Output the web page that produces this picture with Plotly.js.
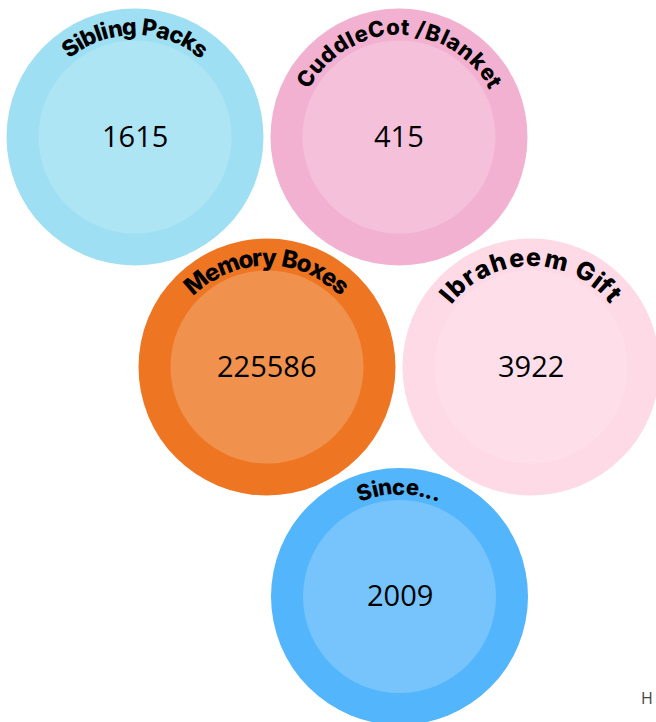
<!DOCTYPE html>
<html>
<head>
<meta charset="utf-8">
<script src="https://cdn.plot.ly/plotly-3.0.1.min.js"></script>
<style>html,body{margin:0;padding:0;background:#fff;}#chart{width:656px;height:722px;}</style>
</head>
<body>
<div id="chart"></div>
<script>
// ---- data ----
const labels = ['Sibling Packs', 'CuddleCot /Blanket', 'Memory Boxes', 'Ibraheem Gift', 'Since...'];
const values = [1615, 415, 225586, 3922, 2009];

// ---- layout / styling (positions in pixel-like axis units) ----
const centerX = [135, 399, 267, 531, 399.5];
const centerY = [137, 137, 367, 367, 596.5];
const outerColors = ['#9EDFF4', '#F2B1D0', '#EE7623', '#FED9E6', '#53B5FC'];
const innerColors = ['#AEE5F5', '#F5C1DA', '#F0914D', '#FEDFE9', '#76C4FB'];
const arcSpan = [80, 126, 92, 104, 45];      // degrees covered by curved label
const labelSize = [23, 22, 24, 25, 22];
const labelRadius = 110;
const outerSize = 257, innerSize = 193;
const labelFont = 'Inter';

const canvas = document.createElement('canvas');
const ctx = canvas.getContext('2d');

const annotations = [];
labels.forEach((lab, k) => {
  ctx.font = '800 ' + labelSize[k] + 'px ' + labelFont;
  const chars = Array.from(lab);
  const w = chars.map(c => ctx.measureText(c).width);
  const W = w.reduce((a, b) => a + b, 0);
  let cum = 0;
  chars.forEach((c, i) => {
    const mid = cum + w[i] / 2;
    cum += w[i];
    if (c === ' ') return;
    const th = (-arcSpan[k] / 2 + arcSpan[k] * mid / W);
    const rad = th * Math.PI / 180;
    annotations.push({
      x: centerX[k] + labelRadius * Math.sin(rad),
      y: centerY[k] - labelRadius * Math.cos(rad),
      xref: 'x', yref: 'y', text: c, showarrow: false, textangle: th,
      xanchor: 'center', yanchor: 'middle',
      font: {family: labelFont, size: labelSize[k], color: '#000', weight: 800}
    });
  });
});
values.forEach((v, k) => {
  annotations.push({
    x: centerX[k], y: centerY[k], xref: 'x', yref: 'y', text: String(v),
    showarrow: false, xanchor: 'center', yanchor: 'middle', yshift: 2,
    font: {family: 'Open Sans', size: 29, color: '#000'}
  });
});
annotations.push({
  x: 655, y: 698, xref: 'x', yref: 'y', text: 'H', showarrow: false,
  xanchor: 'right', yanchor: 'middle',
  font: {family: 'Open Sans', size: 16, color: '#444'}
});

const traces = [
  {
    type: 'scatter', mode: 'markers', x: centerX, y: centerY, hoverinfo: 'skip',
    marker: {size: outerSize, color: outerColors, line: {width: 0}, opacity: 1}
  },
  {
    type: 'scatter', mode: 'markers', x: centerX, y: centerY, hoverinfo: 'skip',
    marker: {size: innerSize, color: innerColors, line: {width: 0}, opacity: 1}
  }
];

const layout = {
  width: 656, height: 722,
  margin: {l: 0, r: 0, t: 0, b: 0},
  paper_bgcolor: '#fff', plot_bgcolor: '#fff',
  showlegend: false,
  xaxis: {range: [0, 656], visible: false, fixedrange: true},
  yaxis: {range: [722, 0], visible: false, fixedrange: true},
  annotations: annotations
};

Plotly.newPlot('chart', traces, layout, {staticPlot: true, displayModeBar: false});
</script>
</body>
</html>
